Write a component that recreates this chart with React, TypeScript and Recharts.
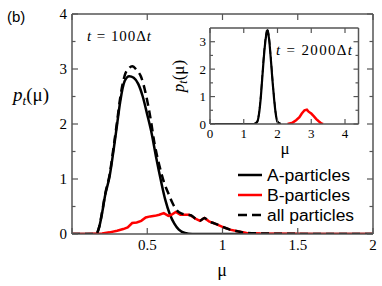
import React from 'react';
import { LineChart, Line, XAxis, YAxis, Legend } from 'recharts';

// ---------- main panel data (t = 100Δt) ----------
const A_MU = [0, 0.1, 0.16, 0.18, 0.2, 0.22, 0.25, 0.28, 0.3, 0.32, 0.35, 0.38, 0.41, 0.44, 0.47, 0.5, 0.53, 0.56, 0.59, 0.62, 0.65, 0.68, 0.71, 0.75, 0.8, 1.0, 2.0];
const A_P = [0, 0, 0, 0.12, 0.38, 0.7, 1.05, 1.6, 2.0, 2.4, 2.78, 2.87, 2.84, 2.73, 2.5, 2.17, 1.82, 1.38, 0.98, 0.62, 0.36, 0.19, 0.08, 0.02, 0, 0, 0];

const B_MU = [0, 0.1, 0.2, 0.25, 0.3, 0.34, 0.37, 0.4, 0.43, 0.46, 0.49, 0.52, 0.55, 0.58, 0.61, 0.64, 0.66, 0.69, 0.72, 0.75, 0.78, 0.82, 0.85, 0.88, 0.91, 0.95, 1.0, 1.05, 1.1, 1.16, 1.25, 1.4, 1.6, 2.0];
const B_P = [0, 0, 0.01, 0.03, 0.06, 0.09, 0.12, 0.2, 0.21, 0.24, 0.3, 0.32, 0.33, 0.35, 0.38, 0.33, 0.35, 0.4, 0.35, 0.35, 0.35, 0.28, 0.24, 0.29, 0.23, 0.19, 0.13, 0.08, 0.05, 0.02, 0.01, 0.005, 0, 0];

const ALL_MU = [0, 0.1, 0.16, 0.18, 0.2, 0.22, 0.25, 0.28, 0.3, 0.32, 0.35, 0.38, 0.4, 0.43, 0.46, 0.49, 0.52, 0.55, 0.58, 0.61, 0.64, 0.67, 0.7, 0.73, 0.76, 0.79, 0.82, 0.85, 0.88, 0.91, 0.95, 1.0, 1.05, 1.1, 1.16, 1.25, 1.4, 1.6, 2.0];
const ALL_P = [0, 0, 0, 0.12, 0.4, 0.72, 1.08, 1.65, 2.05, 2.47, 2.88, 3.02, 3.05, 2.98, 2.85, 2.55, 2.13, 1.62, 1.25, 0.95, 0.74, 0.55, 0.42, 0.37, 0.35, 0.34, 0.28, 0.24, 0.29, 0.23, 0.19, 0.13, 0.08, 0.05, 0.02, 0.01, 0.005, 0, 0];

// ---------- inset data (t = 2000Δt) ----------
const IA_MU = [0, 1.3, 1.4, 1.45, 1.5, 1.55, 1.6, 1.65, 1.7, 1.75, 1.8, 1.85, 1.9, 1.95, 2.0, 2.1];
const IA_P = [0, 0, 0.08, 0.35, 0.9, 1.7, 2.5, 3.1, 3.42, 3.1, 2.4, 1.6, 0.9, 0.35, 0.08, 0];
const IALL_MU = [1.3, 1.4, 1.45, 1.5, 1.55, 1.6, 1.65, 1.7, 1.75, 1.8, 1.85, 1.9, 1.95, 2.0, 2.1];
const IALL_P = [0, 0.09, 0.38, 0.95, 1.76, 2.58, 3.18, 3.47, 3.16, 2.46, 1.66, 0.95, 0.38, 0.09, 0];
const IB_MU = [2.3, 2.45, 2.55, 2.65, 2.72, 2.8, 2.87, 2.92, 3.0, 3.08, 3.15, 3.22, 3.3, 3.35];
const IB_P = [0, 0.05, 0.14, 0.25, 0.38, 0.5, 0.52, 0.45, 0.38, 0.28, 0.18, 0.1, 0.02, 0];

// ---------- ticks ----------
const MAIN_X_TICKS = [0, 0.5, 1, 1.5, 2];
const MAIN_Y_TICKS = [0, 0.5, 1, 1.5, 2, 2.5, 3, 3.5, 4];
const INSET_X_TICKS = [0, 1, 2, 3, 4];
const INSET_Y_TICKS = [0, 0.5, 1, 1.5, 2, 2.5, 3];

const SERIES = [
  { name: 'A-particles', color: '#000000', dash: undefined as string | undefined },
  { name: 'B-particles', color: '#ff0000', dash: undefined as string | undefined },
  { name: 'all particles', color: '#000000', dash: '8 5' },
];

const rows = (xs: number[], ys: number[]) => xs.map((x, i) => ({ x, y: ys[i] }));

const SERIF = '"Liberation Serif", "Times New Roman", serif';
const SANS = '"Liberation Sans", Arial, sans-serif';
const FRAME = '#555555';

type Side = 'bottom' | 'top' | 'left' | 'right';
const makeTick = (side: Side, opts: { len: number; minor: number; font: number; offset: number; label: boolean; xLabelHide0?: boolean }) =>
  (props: any) => {
    const { x, y, payload } = props;
    const v: number = payload.value;
    const isMajor = Math.abs(v - Math.round(v)) < 1e-9 || (side === 'bottom' || side === 'top');
    const L = isMajor ? opts.len : opts.minor;
    let x2 = x, y2 = y;
    if (side === 'bottom') y2 = y - L;
    if (side === 'top') y2 = y + L;
    if (side === 'left') x2 = x + L;
    if (side === 'right') x2 = x - L;
    let label: React.ReactNode = null;
    if (opts.label && isMajor && !(opts.xLabelHide0 && v === 0)) {
      if (side === 'bottom') {
        label = (
          <text x={x} y={y + opts.offset} textAnchor="middle" dominantBaseline="central" fontFamily={SERIF} fontSize={opts.font} fill="#000">
            {String(v)}
          </text>
        );
      } else if (side === 'left') {
        label = (
          <text x={x - opts.offset} y={y} textAnchor="end" dominantBaseline="central" fontFamily={SERIF} fontSize={opts.font} fill="#000">
            {String(v)}
          </text>
        );
      }
    }
    return (
      <g>
        <line x1={x} y1={y} x2={x2} y2={y2} stroke={FRAME} strokeWidth={1.2} />
        {label}
      </g>
    );
  };

const LegendContent = () => (
  <svg width={140} height={62} style={{ overflow: 'visible' }}>
    {SERIES.map((s, i) => {
      const cy = 12 + 20 * i;
      return (
        <g key={s.name}>
          <line x1={4} x2={28} y1={cy} y2={cy} stroke={s.color} strokeWidth={2.5} strokeDasharray={s.dash ? '9 5' : undefined} />
          <text x={33} y={cy} dominantBaseline="central" fontFamily={SANS} fontSize={16} fill="#000"
            textLength={i === 2 ? 87 : 83} lengthAdjust="spacingAndGlyphs">
            {s.name}
          </text>
        </g>
      );
    })}
  </svg>
);

const axisCommon = {
  type: 'number' as const,
  interval: 0 as const,
  tickSize: 0,
  tickMargin: 0,
  tickLine: false,
  allowDataOverflow: true,
  axisLine: { stroke: FRAME, strokeWidth: 1.5 },
};

export default function App() {
  const mainTickCommon = { len: 6, minor: 3.5, font: 15, offset: 11, label: true };
  const insetTickCommon = { len: 5, minor: 3, font: 13, offset: 9, label: true };
  return (
    <div style={{ position: 'absolute', left: 0, top: 0, width: 382, height: 286, background: '#fff', overflow: 'hidden' }}>
      <LineChart width={382} height={286} margin={{ top: 13, right: 8, bottom: 51, left: 71 }}>
        <XAxis {...axisCommon} dataKey="x" domain={[0, 2]} ticks={MAIN_X_TICKS} height={1}
          tick={makeTick('bottom', { ...mainTickCommon, xLabelHide0: true })} />
        <XAxis {...axisCommon} xAxisId="top" orientation="top" dataKey="x" domain={[0, 2]} ticks={MAIN_X_TICKS} height={1}
          tick={makeTick('top', { ...mainTickCommon, label: false })} />
        <YAxis {...axisCommon} domain={[0, 4]} ticks={MAIN_Y_TICKS} width={1}
          tick={makeTick('left', { ...mainTickCommon, offset: 5 })} />
        <YAxis {...axisCommon} yAxisId="right" orientation="right" domain={[0, 4]} ticks={MAIN_Y_TICKS} width={1}
          tick={makeTick('right', { ...mainTickCommon, label: false })} />
        <Legend layout="vertical" align="center" verticalAlign="middle"
          wrapperStyle={{ position: 'absolute', left: 234, top: 163, width: 140, height: 62 }}
          content={LegendContent} />
        <Line name={SERIES[0].name} data={rows(A_MU, A_P)} dataKey="y" type="monotone" stroke={SERIES[0].color}
          strokeWidth={2.5} dot={false} isAnimationActive={false} />
        <Line name={SERIES[1].name} data={rows(B_MU, B_P)} dataKey="y" type="linear" stroke={SERIES[1].color}
          strokeWidth={2.5} dot={false} isAnimationActive={false} />
        <Line name={SERIES[2].name} data={rows(ALL_MU, ALL_P)} dataKey="y" type="monotone" stroke={SERIES[2].color}
          strokeWidth={2.5} strokeDasharray={SERIES[2].dash} dot={false} isAnimationActive={false} />
      </LineChart>

      <div style={{ position: 'absolute', left: 170, top: 10 }}>
        <LineChart width={200} height={140} margin={{ top: 17, right: 10.5, bottom: 25, left: 39 }}>
          <XAxis {...axisCommon} dataKey="x" domain={[0, 4.4]} ticks={INSET_X_TICKS} height={1}
            tick={makeTick('bottom', insetTickCommon)} />
          <XAxis {...axisCommon} xAxisId="top" orientation="top" dataKey="x" domain={[0, 4.4]} ticks={INSET_X_TICKS} height={1}
            tick={makeTick('top', { ...insetTickCommon, label: false })} />
          <YAxis {...axisCommon} domain={[0, 3.5]} ticks={INSET_Y_TICKS} width={1}
            tick={makeTick('left', { ...insetTickCommon, offset: 4 })} />
          <YAxis {...axisCommon} yAxisId="right" orientation="right" domain={[0, 3.5]} ticks={INSET_Y_TICKS} width={1}
            tick={makeTick('right', { ...insetTickCommon, label: false })} />
          <Line data={rows(IA_MU, IA_P)} dataKey="y" type="monotone" stroke="#000" strokeWidth={2.2} dot={false} isAnimationActive={false} />
          <Line data={rows(IALL_MU, IALL_P)} dataKey="y" type="monotone" stroke="#000" strokeWidth={1.6} strokeDasharray="6 3" dot={false} isAnimationActive={false} />
          <Line data={rows(IB_MU, IB_P)} dataKey="y" type="linear" stroke="#ff0000" strokeWidth={2.5} dot={false} isAnimationActive={false} />
        </LineChart>
      </div>

      <svg width={382} height={286} style={{ position: 'absolute', left: 0, top: 0, pointerEvents: 'none' }}>
        <text x={7} y={16} dominantBaseline="central" fontFamily={SANS} fontSize={15} fill="#000">(b)</text>
        <text x={13} y={101} fontFamily={SERIF} fontSize={19} fill="#000">
          <tspan fontStyle="italic">p</tspan>
          <tspan fontStyle="italic" fontSize={13} dy={4}>t</tspan>
          <tspan dy={-4}>(μ)</tspan>
        </text>
        <text x={222} y={276} textAnchor="middle" fontFamily={SERIF} fontSize={18} fill="#000">μ</text>
        <text x={87} y={41} fontFamily={SERIF} fontSize={15} fill="#000" textLength={64} lengthAdjust="spacing">
          <tspan fontStyle="italic">t</tspan> = 100Δ<tspan fontStyle="italic">t</tspan>
        </text>
        <text x={276} y={55} fontFamily={SERIF} fontSize={15} fill="#000" textLength={76} lengthAdjust="spacing">
          <tspan fontStyle="italic">t</tspan> = 2000Δ<tspan fontStyle="italic">t</tspan>
        </text>
        <text x={285} y={154} textAnchor="middle" fontFamily={SERIF} fontSize={17} fill="#000">μ</text>
        <text transform="rotate(-90 184 76)" x={184} y={76} textAnchor="middle" fontFamily={SERIF} fontSize={17} fill="#000">
          <tspan fontStyle="italic">p</tspan>
          <tspan fontStyle="italic" fontSize={12} dy={3}>t</tspan>
          <tspan dy={-3}>(μ)</tspan>
        </text>
      </svg>
    </div>
  );
}
